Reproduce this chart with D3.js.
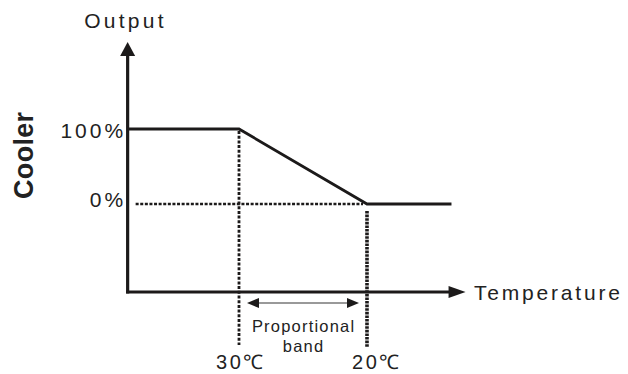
<!DOCTYPE html>
<html>
<head>
<meta charset="utf-8">
<script src="https://cdn.jsdelivr.net/npm/d3@7"></script>
<style>
  html, body { margin: 0; padding: 0; background: #fff; }
  svg { display: block; }
  text { font-family: "Liberation Sans", Arial, sans-serif; fill: #222; }
</style>
</head>
<body>
<script>
// ---- data ----
const curveTemp = [38.7, 30, 20, 13.4];      // temperature (°C) along the output curve
const curveOutput = [100, 100, 0, 0];        // cooler output (%)
const tempTicks = [30, 20];
const tempTickLabels = ["30℃", "20℃"];
const outputTicks = [100, 0];
const outputTickLabels = ["100%", "0%"];
const axisTempRange = [38.7, 12.3];          // x-axis from origin to arrow tip
const axisOutputRange = [-117.3, 216];       // y-axis from origin to arrow tip
const bandLabel = ["Proportional", "band"];
const xTitle = "Temperature";
const yTitle = "Output";
const sideTitle = "Cooler";

// ---- setup ----
const W = 628, H = 374;
const svg = d3.select("body").append("svg").attr("width", W).attr("height", H);

const x = d3.scaleLinear().domain([30, 20]).range([239, 367]);
const y = d3.scaleLinear().domain([0, 100]).range([204, 129]);

const ink = "#1c1a1a";
const x0 = x(axisTempRange[0]), xEnd = x(axisTempRange[1]);
const y0 = y(axisOutputRange[0]), yEnd = y(axisOutputRange[1]);

// dotted guide: 0% horizontal
svg.append("line")
  .attr("x1", x0 + 8).attr("x2", x(20) - 4)
  .attr("y1", y(0)).attr("y2", y(0))
  .attr("stroke", ink).attr("stroke-width", 2.7)
  .attr("stroke-dasharray", "3,1.6");

// dotted guide: 30 vertical
svg.append("line")
  .attr("x1", x(30)).attr("x2", x(30))
  .attr("y1", y(100) + 2).attr("y2", y0 + 53)
  .attr("stroke", ink).attr("stroke-width", 2.8)
  .attr("stroke-dasharray", "3,1.7");

// dotted guide: 20 vertical
svg.append("line")
  .attr("x1", x(20)).attr("x2", x(20))
  .attr("y1", y(0) + 7).attr("y2", y0 + 55)
  .attr("stroke", ink).attr("stroke-width", 3.6)
  .attr("stroke-dasharray", "2.6,1");

// axes
svg.append("line")
  .attr("x1", x0).attr("x2", x0)
  .attr("y1", y0 + 1.5).attr("y2", yEnd + 12)
  .attr("stroke", ink).attr("stroke-width", 3.2);
svg.append("path")
  .attr("d", `M${x0},${yEnd} L${x0 - 7.5},${yEnd + 14} L${x0 + 7.5},${yEnd + 14} Z`)
  .attr("fill", ink);
svg.append("line")
  .attr("x1", x0 - 1.5).attr("x2", xEnd - 14)
  .attr("y1", y0).attr("y2", y0)
  .attr("stroke", ink).attr("stroke-width", 3.2);
svg.append("path")
  .attr("d", `M${xEnd},${y0} L${xEnd - 17},${y0 - 6} L${xEnd - 17},${y0 + 6} Z`)
  .attr("fill", ink);

// output curve
const pts = curveTemp.map((t, i) => [x(t), y(curveOutput[i])]);
svg.append("path")
  .attr("d", d3.line()(pts))
  .attr("fill", "none").attr("stroke", ink)
  .attr("stroke-width", 2.8).attr("stroke-linejoin", "miter");

// proportional band arrow
const by = y0 + 11;
const bx1 = x(30) + 8, bx2 = x(20) - 8;
svg.append("line")
  .attr("x1", bx1 + 10).attr("x2", bx2 - 10)
  .attr("y1", by).attr("y2", by)
  .attr("stroke", "#777").attr("stroke-width", 1.4);
svg.append("path")
  .attr("d", `M${bx1},${by} L${bx1 + 12},${by - 5} L${bx1 + 12},${by + 5} Z`)
  .attr("fill", ink);
svg.append("path")
  .attr("d", `M${bx2},${by} L${bx2 - 12},${by - 5} L${bx2 - 12},${by + 5} Z`)
  .attr("fill", ink);

const bandMid = x(25);
svg.append("text").attr("x", bandMid + 0.6).attr("y", by + 28.7)
  .attr("text-anchor", "middle").attr("font-size", 16.5)
  .attr("letter-spacing", 1.2).text(bandLabel[0]);
svg.append("text").attr("x", bandMid + 0.6).attr("y", by + 48.7)
  .attr("text-anchor", "middle").attr("font-size", 16.5)
  .attr("letter-spacing", 1.2).text(bandLabel[1]);

// temperature tick labels
const tempOffsets = [-23, -15];
tempTicks.forEach((t, i) => {
  svg.append("text").attr("x", x(t) + tempOffsets[i]).attr("y", 369)
    .attr("font-size", 20).attr("letter-spacing", 2.6)
    .text(tempTickLabels[i]);
});

// output tick labels
const outOffsets = [8.6, 2.7];
outputTicks.forEach((v, i) => {
  svg.append("text").attr("x", x0 - 4.5 + 3).attr("y", y(v) + outOffsets[i])
    .attr("text-anchor", "end").attr("font-size", 21)
    .attr("letter-spacing", 3).text(outputTickLabels[i]);
});

// titles
svg.append("text").attr("x", x0 - 43.5).attr("y", 28)
  .attr("font-size", 21).attr("letter-spacing", 3.3).text(yTitle);
svg.append("text").attr("x", xEnd + 8.5).attr("y", 300)
  .attr("font-size", 21).attr("letter-spacing", 2.8).text(xTitle);
svg.append("text")
  .attr("transform", `translate(33,155.3) rotate(-90)`)
  .attr("text-anchor", "middle").attr("font-size", 27).attr("font-weight", "bold")
  .attr("letter-spacing", 0.3).text(sideTitle);
</script>
</body>
</html>
